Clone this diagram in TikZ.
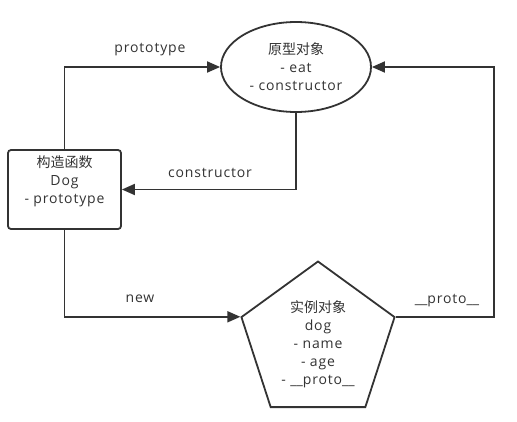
\documentclass[tikz,border=0pt]{standalone}
\usepackage{fontspec}
\setmainfont[LetterSpace=6]{Open Sans}
\newfontfamily\plainfont{Open Sans}
\newfontfamily\cjk{Noto Sans CJK SC}
\newcommand{\uu}{{\plainfont\_\_}}
\usetikzlibrary{shapes.geometric,arrows.meta}
\definecolor{ink}{HTML}{333333}
\begin{document}
\begin{tikzpicture}[x=1pt,y=-1pt,
  every node/.style={text=ink,font=\fontsize{14}{18}\selectfont,align=center},
  shapeline/.style={draw=ink,line width=1.8pt},
  arr/.style={draw=ink,line width=1.8pt,-{Triangle[length=13pt,width=11pt]}},
  lbl/.style={inner sep=0pt}]
\useasboundingbox (0,0) rectangle (517,421);
\node[shapeline,ellipse,minimum width=150,minimum height=90,inner sep=0pt] (ell) at (296,67)
  {{\cjk 原型对象}\\- eat\\- constructor};
\node[shapeline,rectangle,rounded corners=3pt,minimum width=113,minimum height=79] (box) at (64.5,189.5) {};
\node[lbl] (boxtext) at (64.5,181) {{\cjk 构造函数}\\Dog\\- prototype};
\node[shapeline,regular polygon,regular polygon sides=5,minimum size=161,inner sep=0pt] (pent) at (318,342) {};
\node[lbl] (penttext) at (318,344) {{\cjk 实例对象}\\dog\\- name\\- age\\- \uu proto\uu};
\coordinate (pr) at (494,67);
\draw[arr] (box.north) |- (ell.west);
\draw[arr] (ell.south) |- (box.east);
\draw[arr] (box.south) |- (pent.corner 2);
\draw[arr] (pent.corner 5) -| (pr) -- (ell.east);
\node[lbl] (l1) at (150,50) {prototype};
\node[lbl] (l2) at (210,173) {constructor};
\node[lbl] (l3) at (140,299) {new};
\node[lbl] (l4) at (447,301) {\uu proto\uu};
\end{tikzpicture}
\end{document}
